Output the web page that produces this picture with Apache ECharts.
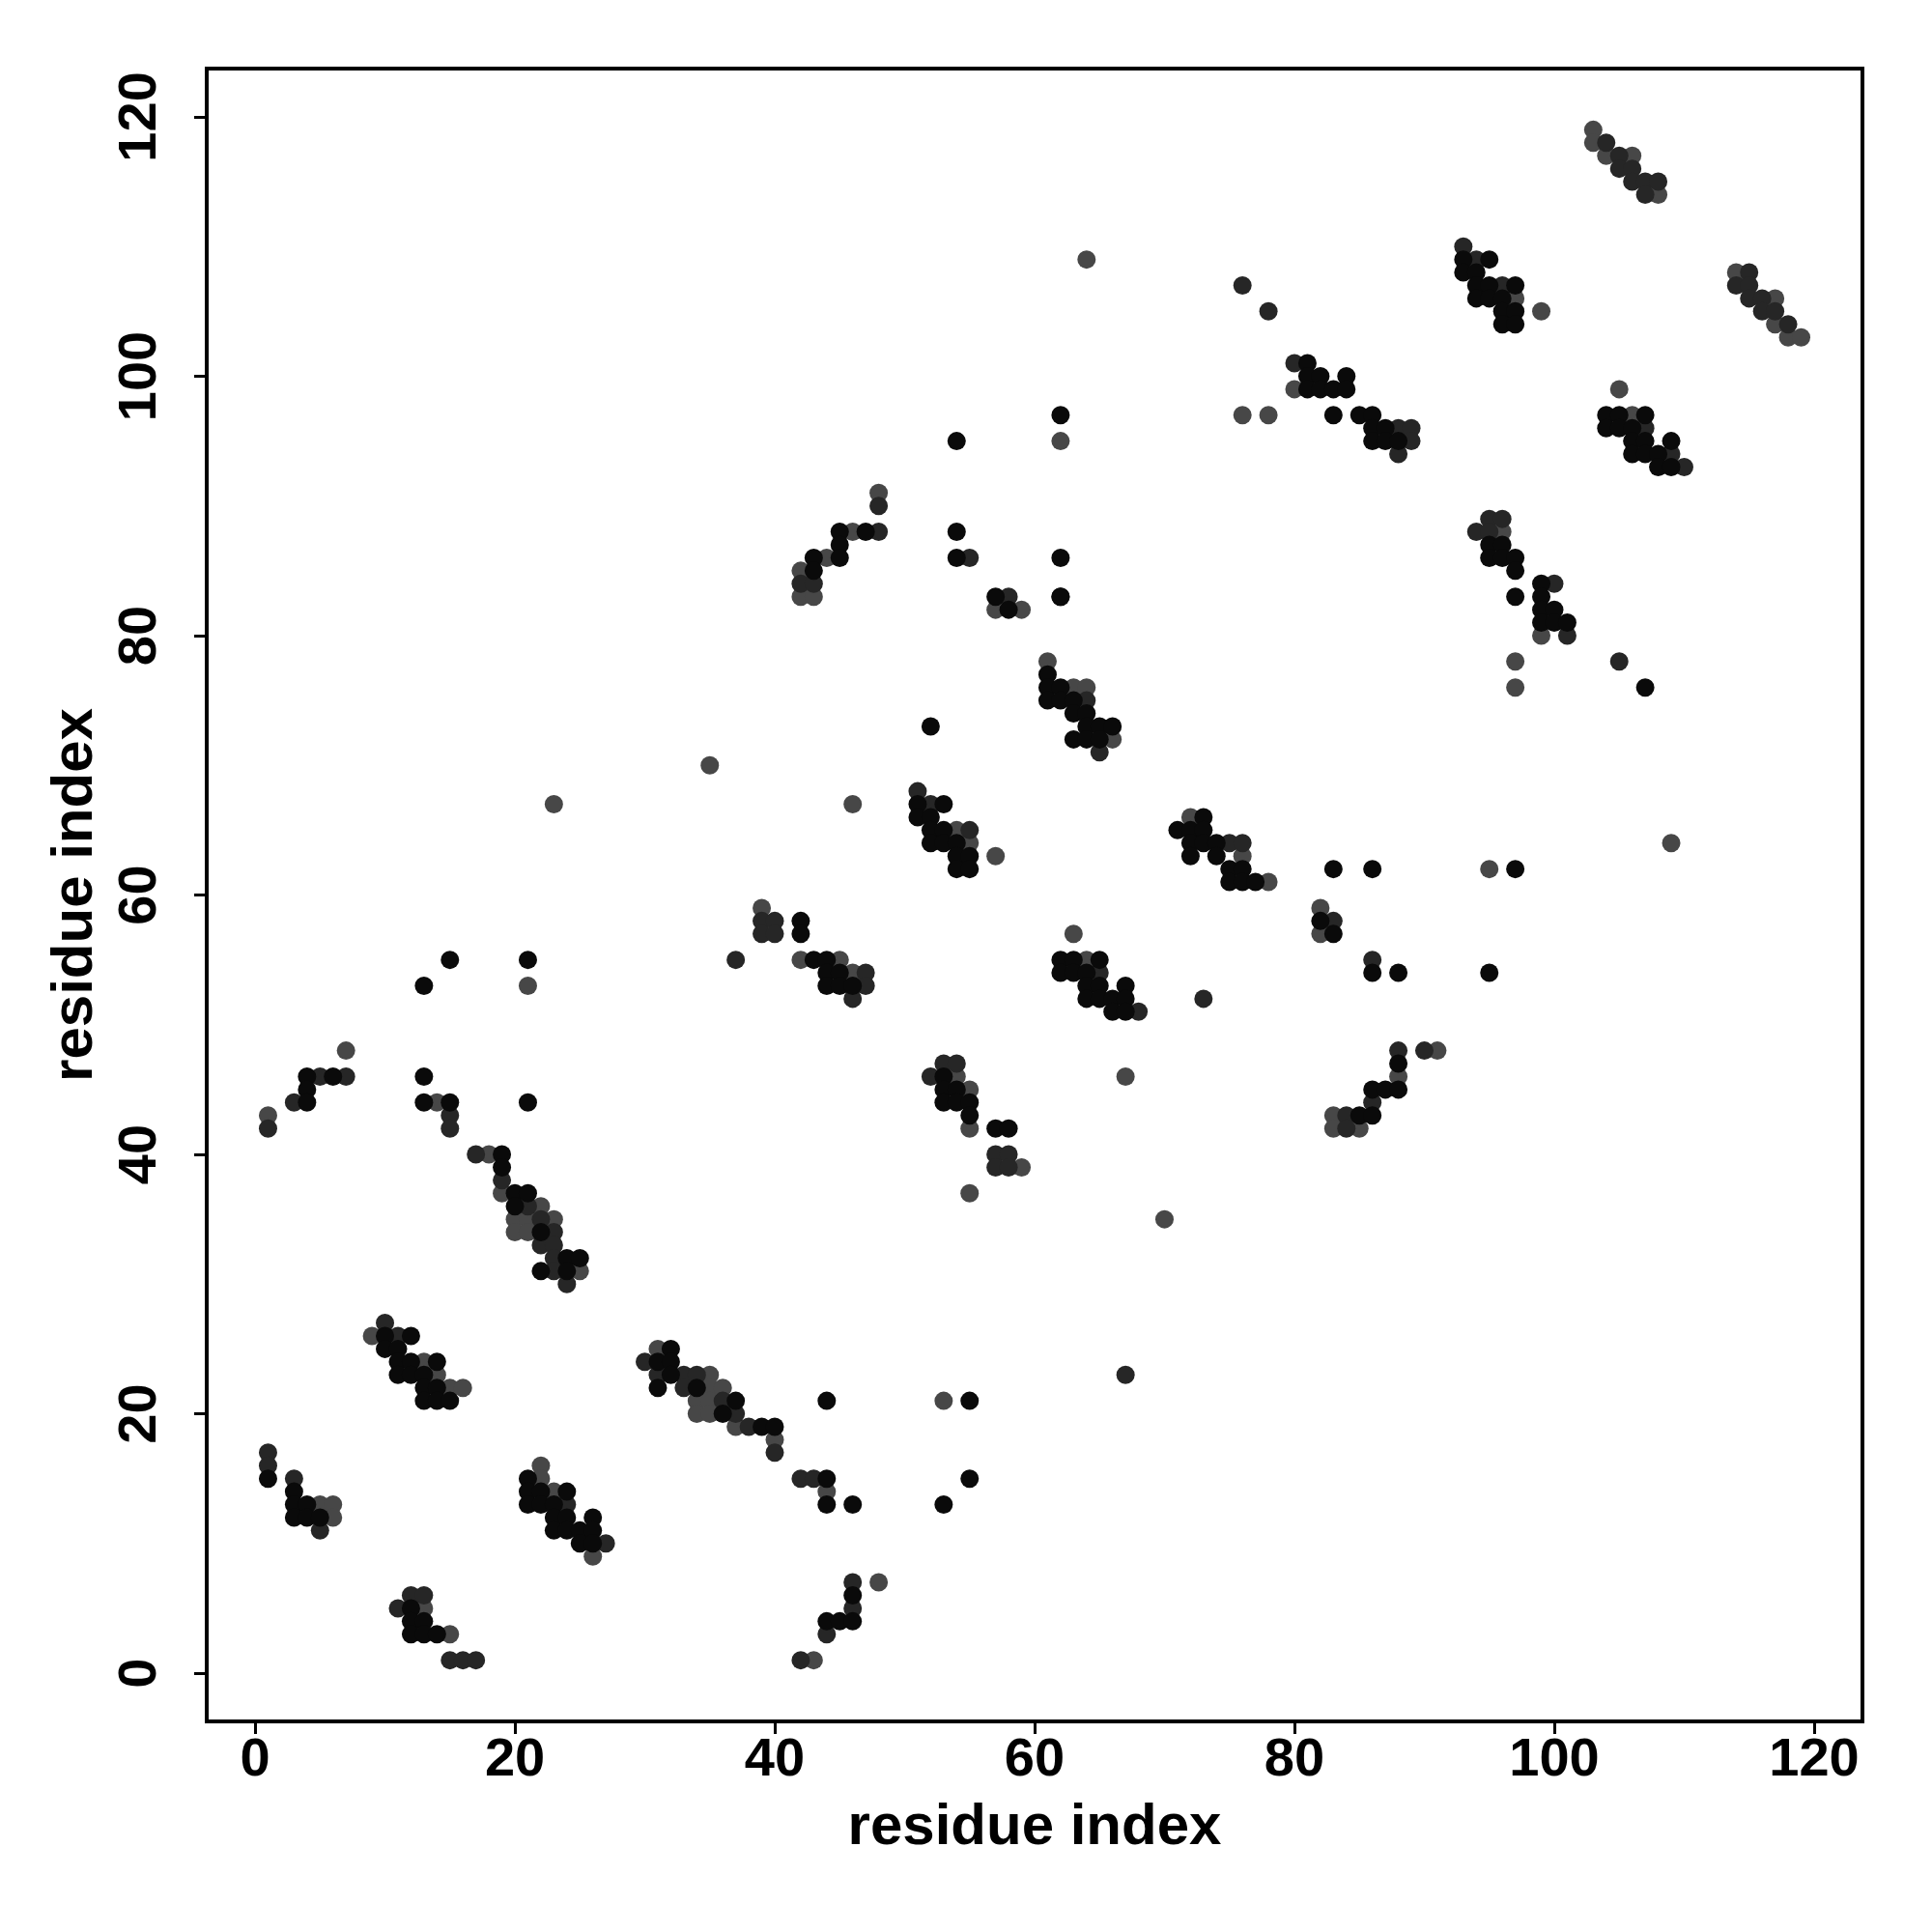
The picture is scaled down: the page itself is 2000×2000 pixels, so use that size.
<!DOCTYPE html>
<html>
<head>
<meta charset="utf-8">
<script src="https://cdn.jsdelivr.net/npm/echarts@6/dist/echarts.min.js"></script>
<style>html,body{margin:0;padding:0;background:#fff;}#c{width:2000px;height:2000px;}</style>
</head>
<body>
<div id="c"></div>
<script>
// tick labels
const xTicks = [0, 20, 40, 60, 80, 100, 120];
const yTicks = [0, 20, 40, 60, 80, 100, 120];

// contacts, grouped by shade (darkest = strongest)
const blackPts = [
[19,40],[19,39],[20,37],[21,37],[20,36],[22,34],[24,32],[25,32],[22,31],[24,31],
[10,26],[12,26],[10,25],[11,25],[11,24],[12,24],[14,24],[11,23],[12,23],[13,23],[13,22],[14,22],[13,21],[14,21],[15,21],
[1,15],[3,14],[3,13],[4,13],[3,12],[4,12],[5,12],
[21,15],[21,14],[22,14],[24,14],[21,13],[22,13],[23,13],[23,12],[24,12],[26,12],[23,11],[24,11],[25,11],[26,11],[25,10],[26,10],
[12,5],[12,4],[13,4],[12,3],[13,3],[14,3],
[32,25],[31,24],[32,24],[32,23],[31,22],[34,22],[37,21],[36,20],[39,19],[40,19],
[44,21],[55,21],[44,15],[55,15],[44,13],[46,13],[53,13],[46,6],[44,4],[45,4],[46,4],
[15,55],[21,55],[13,53],[4,46],[6,46],[13,46],[4,45],[4,44],[13,44],[15,44],[21,44],
[52,73],[51,67],[53,67],[51,66],[52,66],[52,65],[53,65],[52,64],[53,64],[54,64],[54,63],[55,63],[54,62],[55,62],
[42,58],[42,57],[43,55],[44,55],[44,54],[45,54],[44,53],[45,53],[46,53],
[53,46],[53,45],[54,45],[53,44],[54,44],[55,44],[55,43],[57,42],[58,42],
[62,83],[58,82],[57,83],[61,77],[61,76],[62,76],[61,75],[62,75],[63,75],[63,74],[64,74],[64,73],[65,73],[66,73],[63,72],[64,72],[65,72],
[73,66],[71,65],[72,65],[73,65],[72,64],[73,64],[74,64],[72,63],[74,63],[75,62],[76,62],[75,61],[76,61],[77,61],
[83,62],[86,62],[82,58],[83,57],
[62,55],[63,55],[65,55],[62,54],[63,54],[64,54],[86,54],[88,54],[64,53],[65,53],[67,53],[64,52],[65,52],[66,52],[67,52],[66,51],[67,51],
[88,47],[86,45],[87,45],[88,45],[85,43],[86,43],
[97,83],[99,84],[99,83],[99,82],[100,82],[99,81],[100,81],[101,81],[107,76],[97,62],[95,54],
[95,87],[96,87],[95,86],[96,86],[97,86],[97,85],
[93,109],[95,109],[93,108],[94,108],[94,107],[95,107],[97,107],[94,106],[95,106],[96,106],[96,105],[97,105],[96,104],[97,104],
[104,97],[105,97],[107,97],[104,96],[105,96],[106,96],[106,95],[107,95],[109,95],[106,94],[107,94],[108,94],[108,93],[109,93],
[81,101],[81,100],[82,100],[84,100],[81,99],[82,99],[83,99],[84,99],
[62,97],[83,97],[85,97],[86,97],[86,96],[87,96],[86,95],[87,95],[88,95],[62,86],[62,83],
[54,95],[45,88],[47,88],[54,88],[45,87],[43,86],[45,86],[54,86],[43,85]
];
const darkPts = [
[17,40],[19,38],[21,36],[22,35],[23,34],[22,33],[23,33],[23,32],[23,31],[24,30],
[10,27],[11,26],
[1,17],[1,16],[3,15],[5,11],
[24,13],[27,10],
[12,6],[13,6],[11,5],[15,1],[16,1],[17,1],
[30,24],[31,23],[33,23],[34,23],[33,22],[36,21],[37,20],[38,19],[40,17],
[42,15],[43,15],[46,7],[46,5],[44,3],[42,1],[67,23],
[5,46],[7,46],[3,44],[15,43],[1,42],[15,42],
[51,68],[52,67],[55,65],[39,58],[40,58],[39,57],[40,57],[37,55],[47,54],[47,53],[46,52],
[53,47],[54,47],[52,46],[57,40],[58,40],[57,39],[58,39],
[58,83],[64,75],[65,71],[75,64],[76,64],[83,58],[65,54],[73,52],[68,51],[86,55],
[88,48],[90,48],[86,44],[84,43],[84,42],
[100,84],[101,80],[105,78],
[95,89],[96,89],[94,88],[95,88],
[104,118],[105,117],[105,116],[106,116],[106,115],[107,115],[108,115],[107,114],
[93,110],[94,109],[96,107],
[115,108],[114,107],[115,107],[115,106],[116,106],[116,105],[117,105],[118,104],
[107,96],[109,94],[110,93],
[76,107],[78,105],[80,101],[88,96],[89,96],[89,95],[88,94],
[48,90],[48,88],[55,86],[42,84],[43,84]
];
const greyPts = [
[18,40],[19,37],[22,36],[20,35],[21,35],[23,35],[20,34],[21,34],[25,31],
[9,26],[13,24],[14,23],[15,22],[16,22],
[5,13],[6,13],[6,12],
[22,16],[22,15],[23,14],[26,9],
[13,5],[15,3],
[31,25],[35,23],[35,22],[36,22],[34,21],[35,21],[34,20],[35,20],[37,19],[40,18],
[53,21],[44,14],[48,7],[43,1],[70,35],
[23,67],[21,53],[7,48],[14,44],[1,43],
[35,70],[46,67],[54,65],[55,64],[57,63],[39,59],[42,55],[45,55],[46,54],
[54,46],[55,45],[55,42],[59,39],[55,37],
[57,82],[59,82],[61,78],[63,76],[64,76],[66,72],[72,66],[76,63],[78,61],[82,59],[82,57],[63,57],[64,55],[67,46],
[91,48],[88,46],[83,43],[83,42],[85,42],
[99,80],[97,78],[97,76],[109,64],[95,62],[96,88],
[103,119],[103,118],[104,117],[106,117],[108,114],
[97,106],[99,105],
[114,108],[117,106],[117,104],[118,103],[119,103],
[105,99],[106,97],
[64,109],[80,99],[76,97],[78,97],[62,95],
[48,91],[46,88],[44,86],[42,85],[42,83],[43,83]
];

const FONT = '"Liberation Sans", Arial, Helvetica, sans-serif';
const chart = echarts.init(document.getElementById('c'), null, {renderer: 'canvas'});
function pts(name, data, color) {
  return {
    name: name, type: 'scatter', data: data, symbol: 'circle', symbolSize: 19,
    itemStyle: {color: color, opacity: 1}, silent: true, animation: false
  };
}
chart.setOption({
  animation: false,
  backgroundColor: '#ffffff',
  grid: {left: 214, top: 71, width: 1714, height: 1711, show: true, borderColor: '#000', borderWidth: 4, backgroundColor: 'transparent'},
  xAxis: {
    type: 'value', min: -3.72, max: 123.72, position: 'bottom',
    name: 'residue index', nameLocation: 'middle', nameGap: 80,
    nameTextStyle: {fontFamily: FONT, fontWeight: 'bold', fontSize: 60, color: '#000'},
    axisLine: {show: false, onZero: false},
    axisTick: {show: true, inside: false, length: 13, lineStyle: {color: '#000', width: 3}, customValues: xTicks},
    axisLabel: {show: true, customValues: xTicks, margin: 13, fontFamily: FONT, fontWeight: 'bold', fontSize: 56, color: '#000'},
    splitLine: {show: false}
  },
  yAxis: {
    type: 'value', min: -3.72, max: 123.72, position: 'left',
    name: 'residue index', nameLocation: 'middle', nameGap: 106, nameRotate: 90,
    nameTextStyle: {fontFamily: FONT, fontWeight: 'bold', fontSize: 60, color: '#000'},
    axisLine: {show: false, onZero: false},
    axisTick: {show: true, inside: false, length: 13, lineStyle: {color: '#000', width: 3}, customValues: yTicks},
    axisLabel: {show: true, customValues: yTicks, rotate: 90, margin: 40, fontFamily: FONT, fontWeight: 'bold', fontSize: 56, color: '#000'},
    splitLine: {show: false}
  },
  series: [
    pts('grey', greyPts, '#474747'),
    pts('dark', darkPts, '#262626'),
    pts('black', blackPts, '#0a0a0a')
  ]
});
</script>
</body>
</html>
